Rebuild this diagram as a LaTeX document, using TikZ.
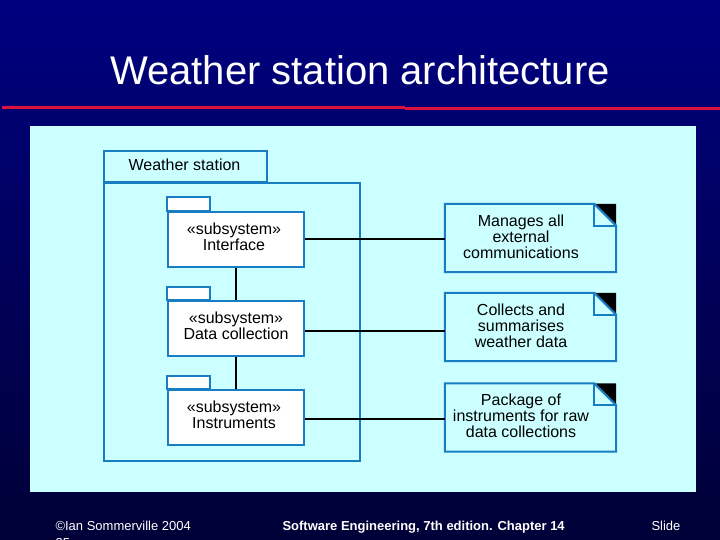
\documentclass[tikz,border=0pt]{standalone}
\usepackage{fontspec}
\setmainfont{Liberation Sans}
\definecolor{navytop}{RGB}{0,0,128}
\definecolor{navybot}{RGB}{0,0,55}
\definecolor{redline}{RGB}{220,20,60}
\definecolor{panel}{RGB}{204,255,255}
\definecolor{umlblue}{RGB}{25,125,195}
\tikzset{
  subbox/.style={draw=umlblue, line width=2pt, fill=white, minimum width=136pt, minimum height=55pt, inner sep=0pt},
  subtext/.style={align=center, inner sep=0pt, font=\fontsize{16}{16}\selectfont},
  notebox/.style={minimum width=171pt, minimum height=68pt, inner sep=0pt},
  notetext/.style={align=center, font=\fontsize{16}{16}\selectfont},
  conn/.style={black, line width=1.5pt},
  foot/.style={white, anchor=base west, font=\fontsize{13}{13}\selectfont},
}
\begin{document}
\begin{tikzpicture}[x=1pt,y=-1pt]
\useasboundingbox (0,0) rectangle (720,540);
\shade[top color=navytop, bottom color=navybot] (0,0) rectangle (720,540);
% title
\node[white, font=\fontsize{40}{40}\selectfont] (title) at (360,70) {Weather station architecture};
\draw[redline, line width=3pt] (2,107.5) -- (405,107.5);
\draw[redline, line width=3pt] (405,109) -- (720,109);
% panel
\fill[panel] (30,126) rectangle (696,492);
% package
\draw[umlblue, line width=1.5pt] (104,183) rectangle (360,461);
\node[draw=umlblue, line width=1.5pt, minimum width=163pt, minimum height=32pt, inner sep=0pt] (ws) at (185.5,167) {};
\node[font=\fontsize{16}{16}\selectfont, inner sep=0pt] (wst) at (184.5,165) {Weather station};
\draw[umlblue, line width=3pt] (104,183) -- (267,183);
% subsystems
\node[subbox] (s1) at (236,239.5) {};
\node[subbox] (s2) at (236,328.5) {};
\node[subbox] (s3) at (236,417.5) {};
\foreach \s in {s1,s2,s3}{
  \draw[umlblue, line width=2pt, fill=white] (\s.north west) rectangle ++(43,-13.5);
}
\node[subtext] (st1) at (234,237) {«subsystem»\\Interface};
\node[subtext] (st2) at (236,326) {«subsystem»\\Data collection};
\node[subtext] (st3) at (234,415) {«subsystem»\\Instruments};
% notes
\node[notebox] (n1) at (530.5,238) {};
\node[notebox] (n2) at (530.5,327) {};
\node[notebox] (n3) at (530.5,417.5) {};
\foreach \n in {n1,n2,n3}{
  \fill[panel] (\n.south west) -- (\n.north west) -- ([xshift=-22pt]\n.north east) -- ([yshift=-22pt]\n.north east) -- (\n.south east) -- cycle;
  \fill[black] ([xshift=-22pt]\n.north east) -- (\n.north east) -- ([yshift=-22pt]\n.north east) -- cycle;
  \draw[umlblue, line width=2pt, line join=miter] (\n.south west) -- (\n.north west) -- ([xshift=-22pt]\n.north east) -- ([yshift=-22pt]\n.north east) -- (\n.south east) -- cycle;
  \draw[umlblue, line width=2pt] ([xshift=-22pt]\n.north east) -- ([xshift=-22pt,yshift=-22pt]\n.north east) -- ([yshift=-22pt]\n.north east);
}
\node[notetext] (t1) at (521,237) {Manages all\\external\\communications};
\node[notetext] (t2) at (521,326) {Collects and\\summarises\\weather data};
\node[notetext] (t3) at (521,416) {Package of\\instruments for raw\\data collections};
% connectors
\draw[conn] (s1.south) -- (s2.north);
\draw[conn] (s2.south) -- (s3.north);
\draw[conn] ([yshift=0.5pt]s1.east) -- ([yshift=0.5pt]s1.east -| n1.west);
\draw[conn] ([yshift=-2.5pt]s2.east) -- ([yshift=-2.5pt]s2.east -| n2.west);
\draw[conn] ([yshift=-1.5pt]s3.east) -- ([yshift=-1.5pt]s3.east -| n3.west);
% footer
\node[foot] (f1) at (52,530) {©Ian Sommerville 2004};
\node[foot, font=\fontsize{13}{13}\selectfont\bfseries] (f2) at (279,530) {Software Engineering, 7th edition. Chapter 14};
\node[foot] (f3) at (648,530) {Slide};
\begin{scope}
\clip (0,0) rectangle (720,540);
\node[foot] (f4) at (52,547) {35};
\end{scope}
\end{tikzpicture}
\end{document}
